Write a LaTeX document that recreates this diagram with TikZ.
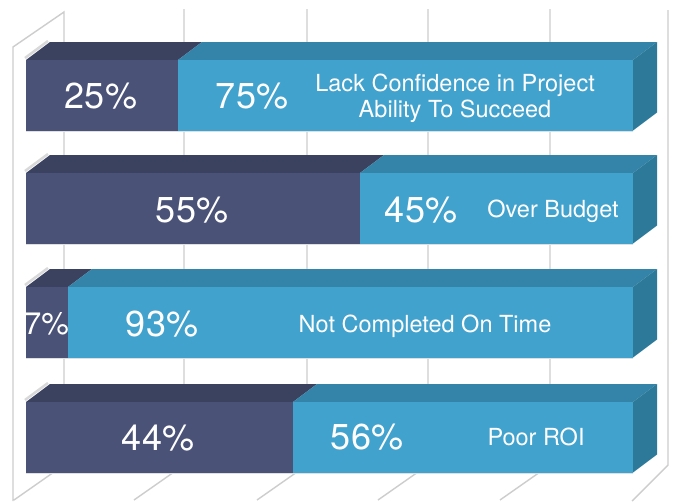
\documentclass[tikz,border=0pt]{standalone}
\usepackage{fontspec}
\setmainfont{TeX Gyre Heros}
\definecolor{darkfront}{HTML}{4A5377}
\definecolor{darktop}{HTML}{3B4260}
\definecolor{lightfront}{HTML}{41A2CE}
\definecolor{lighttop}{HTML}{3384A8}
\definecolor{lightside}{HTML}{2D7999}
\definecolor{gridgray}{HTML}{CDCDCD}
\tikzset{
  gridline/.style={draw=gridgray, line width=1.4pt},
  pct/.style={text=white, inner sep=0pt, anchor=base, font=\fontsize{36}{40}\selectfont},
  pctsmall/.style={text=white, inner sep=0pt, anchor=base, font=\fontsize{31}{34}\selectfont},
  lbl/.style={text=white, inner sep=0pt, anchor=base, font=\fontsize{23.5}{26}\selectfont},
  bevel/.style={draw=gray!30, line width=2.5pt}
}
\newcommand\chartbar[2]{%
  \fill[darktop] (26,#1) -- (#2,#1) -- ++(24,-18) -- (50,#1-18) -- cycle;
  \fill[lighttop] (#2,#1) -- (633,#1) -- (657,#1-18) -- (#2+24,#1-18) -- cycle;
  \fill[lightside] (633,#1) -- (657,#1-18) -- (657,#1+52.5) -- (633,#1+70.5) -- cycle;
  \fill[darkfront] (26,#1) rectangle (#2,#1+70.5);
  \fill[lightfront] (#2,#1) rectangle (633,#1+70.5);
  \draw[bevel] (25,#1-2) -- (48,#1-19);
  \draw[draw=gray!25, line width=1pt] (26,#1+71.5) -- (633,#1+71.5);
}
\begin{document}
\begin{tikzpicture}[x=1pt, y=-1pt]
\useasboundingbox (0,0) rectangle (674,501);
\fill[white] (0,0) rectangle (674,501);
% back wall grid lines
\foreach \gx in {184,307,428,550} {
  \draw[gridline] (\gx,9) -- (\gx,465) -- ++(-50,35);
}
\draw[gridline] (668,10) -- (668,465) -- (632,501);
% left wall
\draw[gridline] (13,501) -- (13,47) -- (64,12) -- (64,465) -- (14,500);
% bars
\chartbar{60}{178}
\chartbar{173}{360}
\chartbar{287}{68}
\chartbar{402}{293}
% texts
\node[pct] (p25) at (101,108.5) {25\%};
\node[pct] (p75) at (252,108.5) {75\%};
\node[lbl] (l1a) at (455,91) {Lack Confidence in Project};
\node[lbl] (l1b) at (455,117) {Ability To Succeed};
\node[pct] (p55) at (192,222) {55\%};
\node[pct] (p45) at (421,222) {45\%};
\node[lbl] (l2) at (553,217) {Over Budget};
\node[pctsmall] (p7) at (46.5,334) {7\%};
\node[pct] (p93) at (162,336.5) {93\%};
\node[lbl] (l3) at (425,332) {Not Completed On Time};
\node[pct] (p44) at (158,450) {44\%};
\node[pct] (p56) at (367,449.5) {56\%};
\node[lbl] (l4) at (536,445) {Poor ROI};
\end{tikzpicture}
\end{document}
